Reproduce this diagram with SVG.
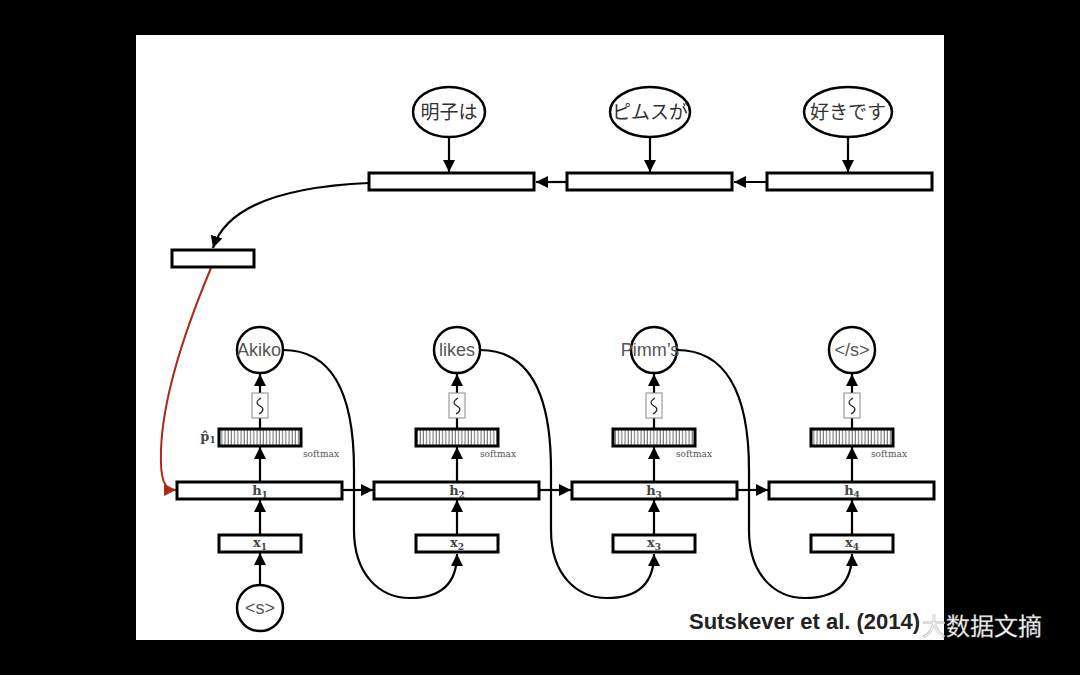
<svg xmlns="http://www.w3.org/2000/svg" width="1080" height="675" viewBox="0 0 1080 675">
<defs>
<marker id="ah" markerUnits="userSpaceOnUse" markerWidth="12" markerHeight="12" refX="10" refY="5" orient="auto" viewBox="0 0 10 10"><path d="M0,0 L10,5 L0,10 z" fill="#000"/></marker>
<marker id="ahr" markerUnits="userSpaceOnUse" markerWidth="12" markerHeight="12" refX="10" refY="5" orient="auto" viewBox="0 0 10 10"><path d="M0,0 L10,5 L0,10 z" fill="#b0281a"/></marker>
<pattern id="hatch" patternUnits="userSpaceOnUse" width="3.2" height="20" x="0" y="0"><rect width="3.2" height="20" fill="#fff"/><line x1="1" y1="0" x2="1" y2="20" stroke="#555" stroke-width="0.9"/></pattern>
<style>
.box{fill:#fff;stroke:#000;stroke-width:3}
.sm{fill:url(#hatch);stroke:#000;stroke-width:3}
.tb{fill:#fff;stroke:#888;stroke-width:1}
.wave{fill:none;stroke:#222;stroke-width:1.2}
.node{fill:#fff;stroke:#000;stroke-width:2.5}
.conn{fill:none;stroke:#000;stroke-width:2.2}
.red{fill:none;stroke:#b0281a;stroke-width:2}
.lbl{font-family:"Liberation Sans","Noto Sans",sans-serif;font-size:18px;fill:#555;text-anchor:middle}
.jp{font-family:"Noto Sans CJK JP","Noto Sans CJK SC",sans-serif;font-size:19px;fill:#333;text-anchor:middle}
.math{font-family:"DejaVu Serif","Liberation Serif",serif;font-weight:bold;font-size:13px;fill:#444;text-anchor:middle}
.smx{font-family:"DejaVu Serif","Liberation Serif",serif;font-size:9px;fill:#555}
</style>
</defs>
<rect x="0" y="0" width="1080" height="675" fill="#000"/>
<rect x="136" y="35" width="808" height="605" fill="#fff"/>

<g id="connectors">
<line class="conn" x1="449" y1="138" x2="449" y2="172" marker-end="url(#ah)"/>
<line class="conn" x1="650" y1="138" x2="650" y2="172" marker-end="url(#ah)"/>
<line class="conn" x1="848" y1="138" x2="848" y2="172" marker-end="url(#ah)"/>
<line class="conn" x1="767" y1="182" x2="734" y2="182" marker-end="url(#ah)"/>
<line class="conn" x1="567" y1="182" x2="536" y2="182" marker-end="url(#ah)"/>
<path class="conn" d="M369,183 C300,186 228,200 213,248" marker-end="url(#ah)"/>
<path class="red" d="M211,268 C190,318 163,390 161,450 C160,480 164,490 176,490" marker-end="url(#ahr)"/>
<line class="conn" x1="342" y1="490" x2="373" y2="490" marker-end="url(#ah)"/>
<line class="conn" x1="539" y1="490" x2="571" y2="490" marker-end="url(#ah)"/>
<line class="conn" x1="737" y1="490" x2="768" y2="490" marker-end="url(#ah)"/>
<line class="conn" x1="260" y1="585" x2="260" y2="553" marker-end="url(#ah)"/>
<line class="conn" x1="260" y1="535" x2="260" y2="500" marker-end="url(#ah)"/>
<line class="conn" x1="457" y1="535" x2="457" y2="500" marker-end="url(#ah)"/>
<line class="conn" x1="654" y1="535" x2="654" y2="500" marker-end="url(#ah)"/>
<line class="conn" x1="852" y1="535" x2="852" y2="500" marker-end="url(#ah)"/>
<line class="conn" x1="260" y1="482" x2="260" y2="447" marker-end="url(#ah)"/>
<line class="conn" x1="457" y1="482" x2="457" y2="447" marker-end="url(#ah)"/>
<line class="conn" x1="654" y1="482" x2="654" y2="447" marker-end="url(#ah)"/>
<line class="conn" x1="852" y1="482" x2="852" y2="447" marker-end="url(#ah)"/>
<line class="conn" x1="260" y1="429" x2="260" y2="418"/>
<line class="conn" x1="457" y1="429" x2="457" y2="418"/>
<line class="conn" x1="654" y1="429" x2="654" y2="418"/>
<line class="conn" x1="852" y1="429" x2="852" y2="418"/>
<line class="conn" x1="260" y1="393" x2="260" y2="374" marker-end="url(#ah)"/>
<line class="conn" x1="457" y1="393" x2="457" y2="374" marker-end="url(#ah)"/>
<line class="conn" x1="654" y1="393" x2="654" y2="374" marker-end="url(#ah)"/>
<line class="conn" x1="852" y1="393" x2="852" y2="374" marker-end="url(#ah)"/>
<path class="conn" d="M283,350 C330,350 354,390 354,470 L354,530 C354,575 380,598 410,598 C440,598 457,585 457,554" marker-end="url(#ah)"/>
<path class="conn" d="M480,350 C527,350 551,390 551,470 L551,530 C551,575 577,598 607,598 C637,598 654,585 654,554" marker-end="url(#ah)"/>
<path class="conn" d="M677,350 C724,350 749,390 749,470 L749,530 C749,575 775,598 805,598 C835,598 852,585 852,554" marker-end="url(#ah)"/>
</g>

<g id="jp1"><ellipse class="node" cx="449" cy="112" rx="36" ry="25"/><text class="jp" x="449" y="119">明子は</text></g>
<g id="jp2"><ellipse class="node" cx="650" cy="112" rx="40" ry="25"/><text class="jp" x="650" y="119">ピムスが</text></g>
<g id="jp3"><ellipse class="node" cx="848" cy="112" rx="44" ry="25"/><text class="jp" x="848" y="119">好きです</text></g>

<g id="enc1"><rect class="box" x="369" y="173" width="165" height="17"/></g>
<g id="enc2"><rect class="box" x="567" y="173" width="165" height="17"/></g>
<g id="enc3"><rect class="box" x="767" y="173" width="165" height="17"/></g>
<g id="ctx"><rect class="box" x="172" y="250" width="82" height="17"/></g>

<g id="h1"><rect class="box" x="177" y="482" width="165" height="17"/><text class="math" x="260" y="495">h<tspan font-size="9" dy="3">1</tspan></text></g>
<g id="h2"><rect class="box" x="374" y="482" width="165" height="17"/><text class="math" x="457" y="495">h<tspan font-size="9" dy="3">2</tspan></text></g>
<g id="h3"><rect class="box" x="572" y="482" width="165" height="17"/><text class="math" x="654" y="495">h<tspan font-size="9" dy="3">3</tspan></text></g>
<g id="h4"><rect class="box" x="769" y="482" width="165" height="17"/><text class="math" x="852" y="495">h<tspan font-size="9" dy="3">4</tspan></text></g>

<g id="x1"><rect class="box" x="219" y="535" width="82" height="17"/><text class="math" x="260" y="547">x<tspan font-size="9" dy="3">1</tspan></text></g>
<g id="x2"><rect class="box" x="416" y="535" width="82" height="17"/><text class="math" x="457" y="547">x<tspan font-size="9" dy="3">2</tspan></text></g>
<g id="x3"><rect class="box" x="613" y="535" width="82" height="17"/><text class="math" x="654" y="547">x<tspan font-size="9" dy="3">3</tspan></text></g>
<g id="x4"><rect class="box" x="811" y="535" width="82" height="17"/><text class="math" x="852" y="547">x<tspan font-size="9" dy="3">4</tspan></text></g>

<g id="sm1"><rect class="sm" x="219" y="429" width="82" height="17"/><text class="smx" x="303" y="457">softmax</text><text class="math" x="208" y="441">p̂<tspan font-size="9" dy="2">1</tspan></text></g>
<g id="sm2"><rect class="sm" x="416" y="429" width="82" height="17"/><text class="smx" x="480" y="457">softmax</text></g>
<g id="sm3"><rect class="sm" x="613" y="429" width="82" height="17"/><text class="smx" x="676" y="457">softmax</text></g>
<g id="sm4"><rect class="sm" x="811" y="429" width="82" height="17"/><text class="smx" x="871" y="457">softmax</text></g>

<g id="s1"><rect class="tb" x="252" y="393" width="16" height="25"/><path class="wave" d="M261,398 C256,401 256,404 260,406 C264,408 264,411 259,414"/></g>
<g id="s2"><rect class="tb" x="449" y="393" width="16" height="25"/><path class="wave" d="M458,398 C453,401 453,404 457,406 C461,408 461,411 456,414"/></g>
<g id="s3"><rect class="tb" x="646" y="393" width="16" height="25"/><path class="wave" d="M655,398 C650,401 650,404 654,406 C658,408 658,411 653,414"/></g>
<g id="s4"><rect class="tb" x="844" y="393" width="16" height="25"/><path class="wave" d="M853,398 C848,401 848,404 852,406 C856,408 856,411 851,414"/></g>

<g id="o1"><circle class="node" cx="260" cy="350" r="23"/><text class="lbl" x="259" y="356">Akiko</text></g>
<g id="o2"><circle class="node" cx="457" cy="350" r="23"/><text class="lbl" x="457" y="356">likes</text></g>
<g id="o3"><circle class="node" cx="654" cy="350" r="23"/><text class="lbl" x="650" y="356">Pimm’s</text></g>
<g id="o4"><circle class="node" cx="852" cy="350" r="23"/><text class="lbl" x="852" y="356">&lt;/s&gt;</text></g>
<g id="start"><circle class="node" cx="260" cy="608" r="23"/><text class="lbl" x="260" y="614">&lt;s&gt;</text></g>

<text x="689" y="629" font-family="Liberation Sans,Arial,sans-serif" font-weight="bold" font-size="22" fill="#222">Sutskever et al. (2014)</text>
<text x="922" y="635" font-family="Noto Sans CJK SC,Noto Sans CJK JP,sans-serif" font-size="24" fill="#fff" stroke="#888" stroke-width="0.4">大数据文摘</text>
</svg>
